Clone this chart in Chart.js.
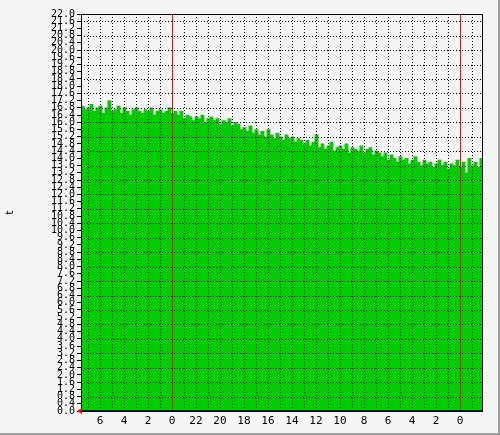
<!DOCTYPE html>
<html>
<head>
<meta charset="utf-8">
<script src="https://cdn.jsdelivr.net/npm/chart.js@4/dist/chart.umd.min.js"></script>
<style>
  html, body { margin: 0; padding: 0; background: #c8c8c8; }
  #wrap { width: 498px; height: 433px; background: #f5f5f5; border-right: 2px solid #a0a0a0; border-bottom: 2px solid #a0a0a0; }
</style>
</head>
<body>
<div id="wrap"><canvas id="chart" width="498" height="433"></canvas></div>
<script>
// one bar = 15 minutes, oldest on the left
const values = [
  16.9,16.7,16.8,17.0,16.6,16.8,16.9,16.5,16.8,17.2,16.6,16.7,16.9,16.5,16.8,16.6,16.4,16.7,16.8,16.6,16.5,16.7,16.6,16.8,16.4,16.6,16.7,16.5,16.6,16.8,16.5,16.6,16.4,16.6,
  16.2,16.4,16.3,16.1,16.3,16.2,16.4,16.0,16.2,16.3,16.1,16.2,15.9,16.1,16.0,16.2,15.8,16.0,15.9,15.6,
  15.7,15.5,15.8,15.4,15.6,15.3,15.5,15.2,15.6,15.3,15.1,15.4,15.2,15.0,15.3,15.1,15.2,14.9,15.1,15.0,
  14.8,15.0,14.7,14.9,15.3,14.6,14.8,14.5,14.7,14.9,14.4,14.6,14.7,14.5,14.8,14.3,14.6,14.5,14.4,14.7,14.3,14.5,14.6,14.2,14.4,14.3,
  14.1,14.3,13.9,14.2,14.0,13.8,14.1,13.9,14.0,13.7,13.9,14.1,13.8,13.6,13.9,13.7,13.8,13.5,13.7,13.9,13.6,13.8,13.4,13.7,13.6,13.9,13.5,13.8,13.2,14.0,13.6,13.8,13.5,14.0
];
const firstHourLabel = 7;       // hour shown at the first grid line
const firstHourPos = 0.583;     // position of that grid line (hours from left edge)
const spanHours = 33.42;

const points = values.map((v, i) => ({ x: i * 0.25 + 0.125, y: v }));

const hourTicks = [];
for (let k = 0; firstHourPos + k < spanHours; k++) {
  hourTicks.push({ value: firstHourPos + k, hour: ((firstHourLabel - k) % 24 + 24) % 24 });
}

// dotted grid drawn over the bars, then frame and midnight lines
const frame = {
  id: 'frame',
  afterDatasetsDraw(c) {
    const a = c.chartArea, ctx = c.ctx, x = c.scales.x, y = c.scales.y;
    ctx.save();
    ctx.strokeStyle = '#000';
    ctx.lineWidth = 1;
    ctx.setLineDash([1, 2]);
    hourTicks.forEach(t => {
      const px = Math.round(x.getPixelForValue(t.value)) + 0.5;
      ctx.beginPath(); ctx.moveTo(px, a.top); ctx.lineTo(px, a.bottom); ctx.stroke();
    });
    for (let v = 0.8; v < 22; v += 0.8) {
      const py = Math.round(y.getPixelForValue(v)) + 0.5;
      ctx.beginPath(); ctx.moveTo(a.left, py); ctx.lineTo(a.right, py); ctx.stroke();
    }
    ctx.setLineDash([]);
    ctx.strokeStyle = '#ff0000';
    hourTicks.filter(t => t.hour === 0).forEach(t => {
      const px = Math.round(x.getPixelForValue(t.value)) + 0.5;
      ctx.beginPath(); ctx.moveTo(px, a.top); ctx.lineTo(px, a.bottom); ctx.stroke();
    });
    ctx.strokeStyle = '#000';
    ctx.strokeRect(a.left + 0.5, a.top + 0.5, a.right - a.left, a.bottom - a.top);
    ctx.strokeStyle = '#0000aa';
    ctx.beginPath(); ctx.moveTo(a.left, a.bottom - 0.5); ctx.lineTo(a.right, a.bottom - 0.5); ctx.stroke();
    ctx.fillStyle = '#ff0000';
    ctx.beginPath(); ctx.moveTo(a.left - 4, a.bottom); ctx.lineTo(a.left + 1, a.bottom - 3); ctx.lineTo(a.left + 1, a.bottom + 3); ctx.fill();
    ctx.restore();
  }
};

new Chart(document.getElementById('chart'), {
  type: 'bar',
  data: {
    datasets: [{
      data: points,
      backgroundColor: '#00cc00',
      borderWidth: 0,
      barPercentage: 1,
      categoryPercentage: 1,
      barThickness: 3.2
    }]
  },
  options: {
    responsive: false,
    animation: false,
    layout: { padding: { top: 14, right: 16, bottom: 0, left: 0 } },
    plugins: { legend: { display: false }, tooltip: { enabled: false } },
    scales: {
      x: {
        type: 'linear', min: 0, max: spanHours, offset: false,
        afterBuildTicks: s => { s.ticks = hourTicks.map(t => ({ value: t.value })); },
        afterFit: s => { s.height = 22; },
        grid: { drawOnChartArea: false, drawTicks: false },
        border: { display: false },
        ticks: {
          autoSkip: false, maxRotation: 0, padding: 4, color: '#000',
          font: { family: 'DejaVu Sans Mono', size: 11 },
          callback: (v, i) => hourTicks[i].hour % 2 === 0 ? String(hourTicks[i].hour) : ''
        }
      },
      y: {
        min: 0, max: 22,
        afterFit: s => { s.width = 81; },
        grid: { drawOnChartArea: false, tickLength: 4, tickColor: '#000' },
        border: { display: false },
        title: { display: true, text: 't', color: '#000', font: { family: 'DejaVu Sans', size: 11 } },
        ticks: {
          stepSize: 0.4, autoSkip: false, color: '#000', padding: 2,
          font: { family: 'DejaVu Sans Mono', size: 10 },
          callback: v => v.toFixed(1)
        }
      }
    }
  },
  plugins: [frame]
});
</script>
</body>
</html>
